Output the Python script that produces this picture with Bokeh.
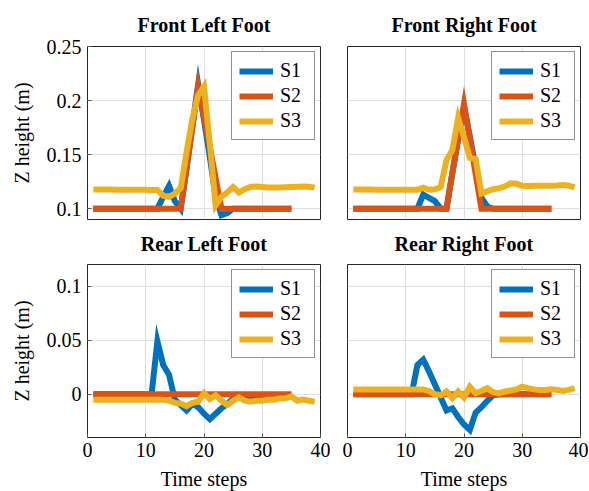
from bokeh.plotting import figure
from bokeh.layouts import gridplot
from bokeh.models import (Legend, LegendItem, FixedTicker, Range1d,
                          NumeralTickFormatter)
from bokeh.embed import file_html
from bokeh.resources import INLINE

# ---------------- data ----------------
steps_s12 = list(range(1, 36))
steps_s3 = list(range(1, 40))

fl_s1 = [0.1]*12 + [0.111, 0.121, 0.107, 0.1, 0.137, 0.176, 0.215, 0.182, 0.148, 0.11,
                   0.094, 0.096, 0.1] + [0.1]*10
fl_s2 = [0.1]*16 + [0.137, 0.175, 0.213, 0.185, 0.157, 0.128, 0.1] + [0.1]*12
fl_s3 = [0.1178, 0.1178, 0.1177, 0.1177, 0.1176, 0.1176, 0.1175, 0.1175, 0.1174, 0.1174,
         0.1173, 0.1172, 0.112, 0.111, 0.114, 0.119, 0.152, 0.183, 0.205, 0.213,
         0.16, 0.103, 0.111, 0.115, 0.12, 0.115, 0.118, 0.12, 0.1205, 0.12,
         0.1195, 0.1195, 0.1197, 0.1198, 0.12, 0.1202, 0.1205, 0.1203, 0.1195]

fr_s1 = [0.1]*12 + [0.113, 0.11, 0.107, 0.1, 0.1, 0.133, 0.164, 0.194, 0.167, 0.138, 0.11,
                   0.102, 0.1] + [0.1]*10
fr_s2 = [0.1]*17 + [0.133, 0.165, 0.197, 0.165, 0.132, 0.1] + [0.1]*12
fr_s3 = [0.1178, 0.1178, 0.1177, 0.1177, 0.1176, 0.1176, 0.1176, 0.1175, 0.1175, 0.1175,
         0.1174, 0.1174, 0.1195, 0.1175, 0.118, 0.12, 0.145, 0.154, 0.184, 0.166,
         0.147, 0.146, 0.114, 0.116, 0.118, 0.119, 0.1205, 0.1235, 0.123, 0.1212,
         0.121, 0.1212, 0.1212, 0.1213, 0.1213, 0.1215, 0.122, 0.1212, 0.1198]

rl_s1 = [0.0]*11 + [0.049, 0.027, 0.018, -0.005, -0.01, -0.015, -0.009, -0.012, -0.018,
                   -0.023, -0.018, -0.013, -0.009, -0.004, -0.002, -0.002, -0.003,
                   -0.003, -0.002, -0.002, -0.001, -0.001, -0.001, -0.001]
rl_s2 = [0.0]*35
rl_s3 = [-0.005]*13 + [-0.006, -0.008, -0.0085, -0.011, -0.008, -0.007, 0.001, -0.0045,
                      -0.001, -0.006, -0.01, -0.006, -0.003, -0.006, -0.007, -0.006,
                      -0.006, -0.005, -0.005, -0.004, -0.004, -0.002, -0.006, -0.005,
                      -0.006, -0.007]

rr_s1 = [0.0]*11 + [0.027, 0.032, 0.021, 0.009, -0.003, -0.015, -0.013, -0.021, -0.028,
                   -0.033, -0.017, -0.012, -0.006, -0.001] + [0.0]*10
rr_s2 = [0.0]*35
rr_s3 = [0.0045]*13 + [0.003, 0.0, -0.001, 0.0025, -0.0037, 0.0025, -0.003, 0.007, 0.001,
                      0.003, 0.0056, 0.002, 0.001, 0.0025, 0.0035, 0.0045, 0.007, 0.0055,
                      0.0045, 0.004, 0.004, 0.0045, 0.004, 0.003, 0.004, 0.0056]

titles = ["Front Left Foot", "Front Right Foot", "Rear Left Foot", "Rear Right Foot"]
series_names = ["S1", "S2", "S3"]
x_ticks = [0, 10, 20, 30, 40]
top_y_ticks = [0.1, 0.15, 0.2, 0.25]
bot_y_ticks = [0, 0.05, 0.1]
top_y_range = (0.09, 0.25)
bot_y_range = (-0.04, 0.12)

# ---------------- styling ----------------
FONT = "Liberation Serif"
FS = "20px"
COLORS = ["#0072BD", "#D95319", "#EDB120"]
FRAME_W, FRAME_H = 233, 173


def make(title, s1, s2, s3, yr, yticks, show_x, show_y, bl, br, bt, bb, tstand):
    p = figure(frame_width=FRAME_W, frame_height=FRAME_H,
               x_range=Range1d(0, 40), y_range=Range1d(*yr),
               output_backend="svg", toolbar_location=None,
               min_border_left=bl, min_border_right=br,
               min_border_top=bt, min_border_bottom=bb,
               title=title)
    p.title.text_font = FONT
    p.title.text_font_style = "bold"
    p.title.text_font_size = FS
    p.title.align = "center"
    p.title.text_color = "#000000"
    p.title.standoff = tstand
    p.outline_line_color = "#262626"
    p.outline_line_width = 1
    p.background_fill_color = "white"
    p.border_fill_color = "white"

    xt = FixedTicker(ticks=x_ticks)
    yt = FixedTicker(ticks=yticks)
    xa = p.xaxis[0]
    ya = p.yaxis[0]
    xa.ticker = xt
    ya.ticker = yt
    p.xgrid.ticker = xt
    p.ygrid.ticker = yt
    p.xgrid.grid_line_color = "#dedede"
    p.ygrid.grid_line_color = "#dedede"

    for ax in (xa, ya):
        ax.axis_line_color = None
        ax.major_tick_in = 4
        ax.major_tick_out = 0
        ax.minor_tick_line_color = None
        ax.major_tick_line_color = "#555555"
        ax.major_label_text_font = FONT
        ax.major_label_text_color = "#000000"
        ax.major_label_text_font_size = FS
        ax.axis_label_text_font = FONT
        ax.axis_label_text_font_style = "normal"
        ax.axis_label_text_font_size = FS
        ax.axis_label_text_color = "#000000"

    ya.formatter = NumeralTickFormatter(format="0.[00]")
    xa.formatter = NumeralTickFormatter(format="0")
    if show_x:
        xa.axis_label = "Time steps"
        xa.major_label_standoff = 5
        xa.axis_label_standoff = 8
    else:
        xa.visible = False
    if show_y:
        ya.axis_label = "Z height (m)"
        ya.major_label_standoff = 6
        ya.axis_label_standoff = 11
    else:
        ya.visible = False

    items = []
    for name, ys, xs, col in zip(series_names, [s1, s2, s3],
                                 [steps_s12, steps_s12, steps_s3], COLORS):
        r = p.line(xs, ys, line_color=col, line_width=6, line_join="miter")
        items.append(LegendItem(label=name, renderers=[r]))
    leg = Legend(items=items, location="top_right")
    leg.label_text_font = FONT
    leg.label_text_font_size = FS
    leg.label_text_color = "#000000"
    leg.glyph_width = 34
    leg.glyph_height = 20
    leg.label_height = 21
    leg.label_width = 27
    leg.label_standoff = 7
    leg.padding = 7
    leg.spacing = 2
    leg.margin = 5
    leg.border_line_color = "#262626"
    leg.border_line_width = 1
    leg.background_fill_alpha = 1.0
    p.add_layout(leg)
    return p


p1 = make(titles[0], fl_s1, fl_s2, fl_s3, top_y_range, top_y_ticks, False, True, 87, 10, 46, 2, 22)
p2 = make(titles[1], fr_s1, fr_s2, fr_s3, top_y_range, top_y_ticks, False, False, 17, 8, 46, 2, 22)
p3 = make(titles[2], rl_s1, rl_s2, rl_s3, bot_y_range, bot_y_ticks, True, True, 87, 10, 43, 54, 19)
p4 = make(titles[3], rr_s1, rr_s2, rr_s3, bot_y_range, bot_y_ticks, True, False, 17, 8, 43, 54, 19)

grid = gridplot([[p1, p2], [p3, p4]], toolbar_location=None)

open("out.html", "w").write(file_html(grid, INLINE))
